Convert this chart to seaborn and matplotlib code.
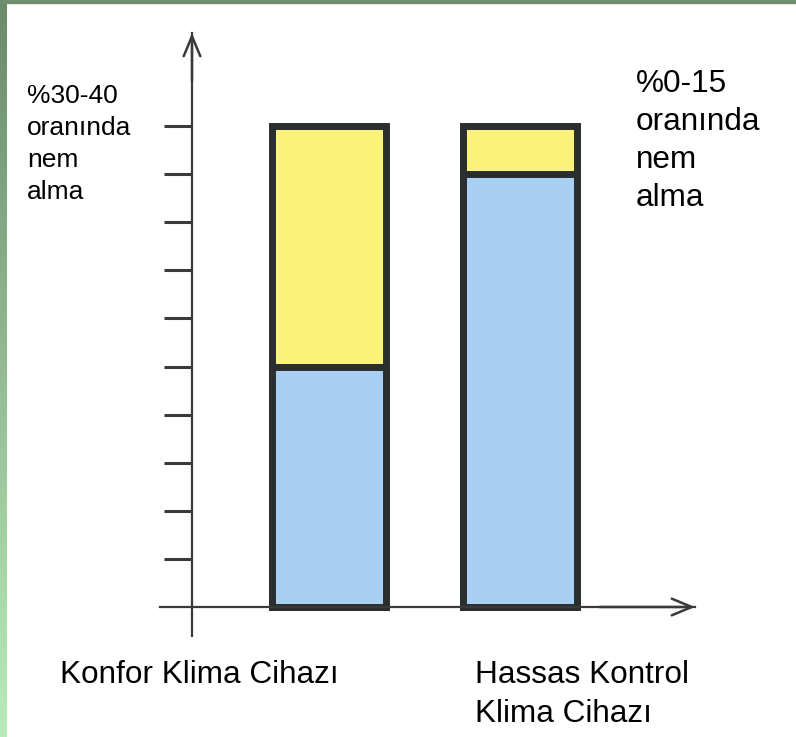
import numpy as np
import matplotlib.pyplot as plt
import seaborn as sns
from matplotlib.patches import Rectangle
from matplotlib.colors import LinearSegmentedColormap

# data (scale 0-10, one tick per unit)
devices = ['Konfor Klima Cihazı', 'Hassas Kontrol Klima Cihazı']
bar_total = [10, 10]
blue_part = [5, 9]
y_ticks = [1, 2, 3, 4, 5, 6, 7, 8, 9, 10]
left_note = ['%30-40', 'oranında', 'nem', 'alma']
right_note = ['%0-15', 'oranında', 'nem', 'alma']
label_left = ['Konfor Klima Cihazı']
label_right = ['Hassas Kontrol', 'Klima Cihazı']

sns.set_theme(style='white')
plt.rcParams['font.family'] = ['Liberation Sans', 'DejaVu Sans']

W, H = 796, 737
fig = plt.figure(figsize=(W / 100, H / 100), dpi=100)
fig.patch.set_facecolor('white')
ax = fig.add_axes([0, 0, 1, 1])
ax.patch.set_alpha(0)

edge = '#2a2e2e'
sns.barplot(x=devices, y=bar_total, color='#fbf27c', saturation=1, width=0.6,
            edgecolor=edge, linewidth=5, errorbar=None, ax=ax)
sns.barplot(x=devices, y=blue_part, color='#a9d0f3', saturation=1, width=0.6,
            edgecolor=edge, linewidth=5, errorbar=None, ax=ax)

# pixel mapping: y=0 at 607px, 48.1px per unit; bar 0 centre at 329px, 191px per bar
y0, ypx = 607, 48.1
x0, xpx = 329, 191
ax.set_ylim((y0 - H) / ypx, y0 / ypx)
ax.set_xlim(-x0 / xpx, (W - x0) / xpx)

xa = (192 - x0) / xpx
y_top = (y0 - 33) / ypx
x_end = (695 - x0) / xpx
axis_col = '#3a3a3a'

ax.spines['top'].set_visible(False)
ax.spines['right'].set_visible(False)
ax.spines['left'].set_position(('data', xa))
ax.spines['left'].set_bounds((y0 - 636) / ypx, y_top)
ax.spines['bottom'].set_position(('data', 0))
ax.spines['bottom'].set_bounds((160 - x0) / xpx, x_end)
for s in ['left', 'bottom']:
    ax.spines[s].set_color(axis_col)
    ax.spines[s].set_linewidth(1.6)

ax.set_yticks(y_ticks)
ax.set_xticks([])
ax.tick_params(axis='y', left=True, direction='out', length=20, width=2.2,
               color=axis_col, labelleft=False)
ax.set_xlabel('')
ax.set_ylabel('')

# arrow heads
head = dict(arrowstyle='->,head_length=1.2,head_width=0.5', lw=1.8,
            color=axis_col, shrinkA=0, shrinkB=0)
ax.annotate('', xy=(xa, y_top), xytext=(xa, y_top - 1), arrowprops=head,
            annotation_clip=False)
ax.annotate('', xy=(x_end, 0), xytext=(x_end - 0.5, 0), arrowprops=head,
            annotation_clip=False)


def ftext(px, py, lines, size, step):
    # one text per line, py is the first baseline in pixels
    for i, s in enumerate(lines):
        fig.text(px / W, 1 - (py + i * step) / H, s, fontsize=size,
                 va='baseline', ha='left', color='black')


ftext(27, 103, left_note, 19, 32)
ftext(636, 92, right_note, 22.7, 38)
ftext(60, 683, label_left, 22.7, 39)
ftext(475, 683, label_right, 22.7, 39)

# green frame strips of the slide
strip = fig.add_axes([0, 0, 7 / W, 1])
cmap = LinearSegmentedColormap.from_list('g', ['#6b8b6b', '#b9ebb9'])
strip.imshow(np.linspace(0, 1, 256)[:, None], aspect='auto', cmap=cmap)
strip.axis('off')
fig.add_artist(Rectangle((0, 1 - 3 / H), 1, 3 / H, transform=fig.transFigure,
                         color='#6f8f6f'))

fig.savefig('out.png', dpi=100)
